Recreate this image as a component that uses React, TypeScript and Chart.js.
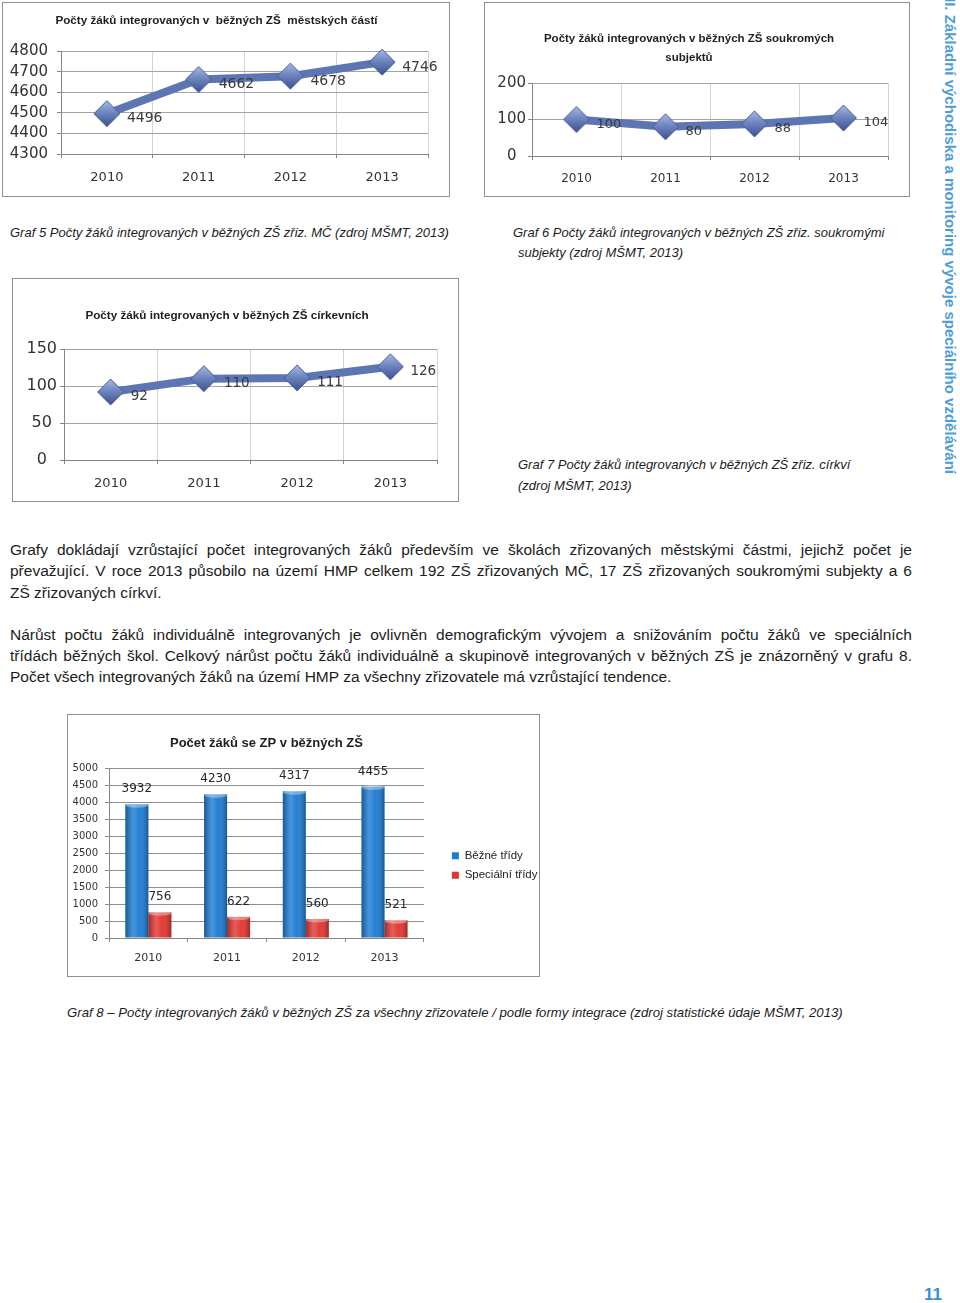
import React, { useEffect, useRef } from "react";
import { Chart, registerables } from "chart.js";

Chart.register(...registerables);

// ---------- data ----------
const years = ["2010", "2011", "2012", "2013"];
const mcValues = [4496, 4662, 4678, 4746];
const privateValues = [100, 80, 88, 104];
const churchValues = [92, 110, 111, 126];
const regularClassValues = [3932, 4230, 4317, 4455];
const specialClassValues = [756, 622, 560, 521];
const seriesNames = ["Běžné třídy", "Speciální třídy"];

const mcTitle = "Počty žáků integrovaných v  běžných ZŠ  městských částí";
const privateTitle = ["Počty žáků integrovaných v běžných ZŠ soukromých", "subjektů"];
const churchTitle = "Počty žáků integrovaných v běžných ZŠ církevních";
const totalTitle = "Počet žáků se ZP v běžných ZŠ";

const paragraph1 = [
  "Grafy dokládají vzrůstající počet integrovaných žáků především ve školách zřizovaných městskými částmi, jejichž počet je",
  "převažující. V roce 2013 působilo na území HMP celkem 192 ZŠ zřizovaných MČ, 17 ZŠ zřizovaných soukromými subjekty a 6",
  "ZŠ zřizovaných církví.",
];
const paragraph2 = [
  "Nárůst počtu žáků individuálně integrovaných je ovlivněn demografickým vývojem a snižováním počtu žáků ve speciálních",
  "třídách běžných škol. Celkový nárůst počtu žáků individuálně a skupinově integrovaných v běžných ZŠ je znázorněný v grafu 8.",
  "Počet všech integrovaných žáků na území HMP za všechny zřizovatele má vzrůstající tendence.",
];
const sideTitle = "II. Základní východiska a monitoring vývoje speciálního vzdělávání";

// ---------- styling ----------
const FONT_NUM = '"DejaVu Sans", sans-serif';
const FONT_TXT = '"Liberation Sans", Arial, sans-serif';
const LINE_COLOR = "#5d75b3";
const H_GRID = "#a3a3a3";
const V_GRID = "#d3d3d3";
const AXIS = "#868686";

function makeDiamond(r: number) {
  const c = document.createElement("canvas");
  const s = Math.ceil(2 * r + 2);
  c.width = s;
  c.height = s;
  const g = c.getContext("2d")!;
  const m = s / 2;
  const grad = g.createLinearGradient(0, m - r, 0, m + r);
  grad.addColorStop(0, "#a9b9e0");
  grad.addColorStop(0.45, "#6f86c0");
  grad.addColorStop(1, "#3b5290");
  g.beginPath();
  g.moveTo(m, m - r);
  g.lineTo(m + r, m);
  g.lineTo(m, m + r);
  g.lineTo(m - r, m);
  g.closePath();
  g.fillStyle = grad;
  g.fill();
  g.strokeStyle = "#475d97";
  g.lineWidth = 1;
  g.stroke();
  return c;
}

function pointLabelPlugin(size: number, dx: number, dy: number) {
  return {
    id: "pointLabels",
    afterDatasetsDraw(chart: any) {
      const { ctx } = chart;
      const meta = chart.getDatasetMeta(0);
      const data = chart.data.datasets[0].data;
      ctx.save();
      ctx.font = `${size}px ${FONT_NUM}`;
      ctx.fillStyle = "#3a3a3a";
      ctx.textAlign = "left";
      ctx.textBaseline = "middle";
      meta.data.forEach((pt: any, i: number) => {
        ctx.fillText(String(data[i]), pt.x + dx, pt.y + dy);
      });
      ctx.restore();
    },
  };
}

const barDecor = {
  id: "barDecor",
  afterDatasetsDraw(chart: any) {
    const { ctx } = chart;
    ctx.save();
    chart.data.datasets.forEach((ds: any, di: number) => {
      const meta = chart.getDatasetMeta(di);
      meta.data.forEach((el: any, i: number) => {
        const { x, y, base, width } = el.getProps(["x", "y", "base", "width"], true);
        const l = x - width / 2;
        const g = ctx.createLinearGradient(l, 0, l + width, 0);
        g.addColorStop(0, "rgba(0,0,0,0.28)");
        g.addColorStop(0.35, "rgba(255,255,255,0.2)");
        g.addColorStop(0.6, "rgba(255,255,255,0.04)");
        g.addColorStop(1, "rgba(0,0,0,0.3)");
        ctx.fillStyle = g;
        ctx.fillRect(l, y, width, base - y);
        ctx.beginPath();
        ctx.ellipse(x, y + 1, width / 2, 2.5, 0, 0, Math.PI * 2);
        ctx.fillStyle = "rgba(255,255,255,0.35)";
        ctx.fill();
        ctx.font = `12px ${FONT_NUM}`;
        ctx.fillStyle = "#262626";
        ctx.textAlign = "center";
        ctx.textBaseline = "middle";
        ctx.fillText(String(ds.data[i]), x, y - 15);
      });
    });
    ctx.restore();
  },
};

// moves the legend block to the right of the plot, as in the original layout
const legendNudge = {
  id: "legendNudge",
  afterLayout(chart: any) {
    const lg = chart.legend;
    if (!lg) return;
    lg.left += 20;
    lg.right += 20;
    lg.top += 20;
    lg.bottom += 20;
  },
};

const plainTick = (v: any) => String(v);

type LineSpec = {
  title: string | string[];
  titleSize: number;
  titleLH: number;
  titlePadTop: number;
  titlePadBottom: number;
  values: number[];
  yMin: number;
  yMax: number;
  yStep: number;
  padRight: number;
  yWidth: number;
  xHeight: number;
  yFont: number;
  yAlign: "near" | "center";
  yPad: number;
  xFont: number;
  xPad: number;
  labelFont: number;
};

function lineConfig(s: LineSpec): any {
  return {
    type: "line",
    data: {
      labels: years,
      datasets: [
        {
          data: s.values,
          borderColor: LINE_COLOR,
          borderWidth: 8,
          pointStyle: makeDiamond(13),
          pointRadius: 13,
          tension: 0,
          clip: false,
        },
      ],
    },
    plugins: [pointLabelPlugin(s.labelFont, 20, 5)],
    options: {
      responsive: false,
      animation: false,
      devicePixelRatio: 1,
      layout: { padding: { left: 0, right: s.padRight, top: 0, bottom: 0 } },
      plugins: {
        legend: { display: false },
        tooltip: { enabled: false },
        title: {
          display: true,
          text: s.title,
          color: "#1e1e1e",
          font: { family: FONT_TXT, size: s.titleSize, weight: "bold", lineHeight: s.titleLH },
          padding: { top: s.titlePadTop, bottom: s.titlePadBottom },
        },
      },
      scales: {
        x: {
          type: "category",
          offset: true,
          grid: { offset: true, color: V_GRID, tickColor: AXIS, tickLength: 4 },
          border: { color: AXIS },
          ticks: { font: { family: FONT_NUM, size: s.xFont }, color: "#333", padding: s.xPad },
          afterFit: (sc: any) => {
            sc.height = s.xHeight;
          },
        },
        y: {
          min: s.yMin,
          max: s.yMax,
          grid: { color: H_GRID, tickColor: AXIS, tickLength: 4 },
          border: { color: AXIS },
          ticks: {
            stepSize: s.yStep,
            autoSkip: false,
            callback: plainTick,
            font: { family: FONT_NUM, size: s.yFont },
            color: "#333",
            padding: s.yPad,
            crossAlign: s.yAlign,
          },
          afterFit: (sc: any) => {
            sc.width = s.yWidth;
          },
        },
      },
    },
  };
}

function barConfig(): any {
  return {
    type: "bar",
    data: {
      labels: years,
      datasets: [
        { label: seriesNames[0], data: regularClassValues, backgroundColor: "#1b7bd2" },
        { label: seriesNames[1], data: specialClassValues, backgroundColor: "#e1352f" },
      ],
    },
    plugins: [barDecor, legendNudge],
    options: {
      responsive: false,
      animation: false,
      devicePixelRatio: 1,
      categoryPercentage: 0.584,
      barPercentage: 1,
      layout: { padding: { left: 0, right: 11.5, top: 0, bottom: 0 } },
      plugins: {
        tooltip: { enabled: false },
        title: {
          display: true,
          fullSize: false,
          text: totalTitle,
          color: "#1e1e1e",
          font: { family: FONT_TXT, size: 13, weight: "bold", lineHeight: 18 / 13 },
          padding: { top: 19, bottom: 16 },
        },
        legend: {
          position: "right",
          labels: {
            boxWidth: 7,
            boxHeight: 7,
            padding: 8,
            color: "#222",
            font: { family: FONT_TXT, size: 11.5 },
          },
        },
      },
      scales: {
        x: {
          grid: { offset: true, drawOnChartArea: false, color: AXIS, tickLength: 4 },
          border: { color: AXIS },
          ticks: { font: { family: FONT_NUM, size: 11 }, color: "#333", padding: 10 },
          afterFit: (sc: any) => {
            sc.height = 38;
          },
        },
        y: {
          min: 0,
          max: 5000,
          grid: { color: "#8e8e8e", tickLength: 4 },
          border: { color: AXIS },
          ticks: {
            stepSize: 500,
            autoSkip: false,
            callback: plainTick,
            font: { family: FONT_NUM, size: 10 },
            color: "#333",
            padding: 7,
          },
          afterFit: (sc: any) => {
            sc.width = 41;
          },
        },
      },
    },
  };
}

type Box = { left: number; top: number; width: number; height: number };

function ChartBox({ box, build }: { box: Box; build: () => any }) {
  const ref = useRef<HTMLCanvasElement>(null);
  useEffect(() => {
    const chart = new Chart(ref.current!, build());
    return () => chart.destroy();
  }, []);
  const w = box.width - 2;
  const h = box.height - 2;
  return (
    <div
      style={{
        position: "absolute",
        left: box.left,
        top: box.top,
        width: box.width,
        height: box.height,
        boxSizing: "border-box",
        border: "1px solid #8f8f8f",
        background: "#fff",
      }}
    >
      <canvas ref={ref} width={w} height={h} style={{ display: "block", width: w, height: h }} />
    </div>
  );
}

function Line({
  text,
  left,
  center,
  width,
  justify,
  size,
  italic,
}: {
  text: string;
  left: number;
  center: number;
  width?: number;
  justify?: boolean;
  size: number;
  italic?: boolean;
}) {
  const lh = 20;
  return (
    <div
      style={{
        position: "absolute",
        left,
        top: center - lh / 2,
        width: width ?? 900,
        height: lh,
        lineHeight: `${lh}px`,
        fontFamily: FONT_TXT,
        fontSize: size,
        fontStyle: italic ? "italic" : "normal",
        color: "#1c1c1c",
        textAlign: justify ? "justify" : "left",
        textAlignLast: justify ? "justify" : "left",
        whiteSpace: justify ? "normal" : "nowrap",
      }}
    >
      {text}
    </div>
  );
}

export default function App() {
  return (
    <div
      style={{
        position: "absolute",
        left: 0,
        top: 0,
        width: 960,
        height: 1303,
        background: "#fff",
        overflow: "hidden",
      }}
    >
      <ChartBox
        box={{ left: 2, top: 2, width: 448, height: 195 }}
        build={() =>
          lineConfig({
            title: mcTitle,
            titleSize: 11.7,
            titleLH: 1.2,
            titlePadTop: 11,
            titlePadBottom: 23,
            values: mcValues,
            yMin: 4300,
            yMax: 4800,
            yStep: 100,
            padRight: 19,
            yWidth: 58,
            xHeight: 42,
            yFont: 15,
            yAlign: "near",
            yPad: 9,
            xFont: 13,
            xPad: 12,
            labelFont: 14,
          })
        }
      />
      <ChartBox
        box={{ left: 484, top: 2, width: 426, height: 195 }}
        build={() =>
          lineConfig({
            title: privateTitle,
            titleSize: 11.5,
            titleLH: 19 / 11.5,
            titlePadTop: 26,
            titlePadBottom: 16,
            values: privateValues,
            yMin: 0,
            yMax: 200,
            yStep: 100,
            padRight: 16,
            yWidth: 47,
            xHeight: 40,
            yFont: 15,
            yAlign: "center",
            yPad: 2,
            xFont: 12,
            xPad: 12,
            labelFont: 13,
          })
        }
      />
      <ChartBox
        box={{ left: 12, top: 278, width: 447, height: 224 }}
        build={() =>
          lineConfig({
            title: churchTitle,
            titleSize: 11.7,
            titleLH: 1.2,
            titlePadTop: 30,
            titlePadBottom: 26,
            values: churchValues,
            yMin: 0,
            yMax: 150,
            yStep: 50,
            padRight: 17,
            yWidth: 51,
            xHeight: 41,
            yFont: 16,
            yAlign: "center",
            yPad: 3,
            xFont: 13,
            xPad: 12,
            labelFont: 13.5,
          })
        }
      />
      <ChartBox box={{ left: 67, top: 714, width: 473, height: 263 }} build={barConfig} />

      <Line text="Graf 5 Počty žáků integrovaných v běžných ZŠ zřiz. MČ (zdroj MŠMT, 2013)" left={10} center={233} size={13} italic />
      <Line text="Graf 6 Počty žáků integrovaných v běžných ZŠ zřiz. soukromými" left={513} center={233} size={13} italic />
      <Line text="subjekty (zdroj MŠMT, 2013)" left={518} center={253} size={13} italic />
      <Line text="Graf 7  Počty žáků integrovaných v běžných ZŠ zřiz. církví" left={518} center={465} size={13} italic />
      <Line text="(zdroj MŠMT, 2013)" left={518} center={486} size={13} italic />

      {paragraph1.map((t, i) => (
        <Line key={"p1" + i} text={t} left={10} center={[550, 571, 593][i]} width={902} justify={i < 2} size={15.5} />
      ))}
      {paragraph2.map((t, i) => (
        <Line key={"p2" + i} text={t} left={10} center={[635, 656, 677][i]} width={902} justify={i < 2} size={15.5} />
      ))}

      <Line
        text="Graf 8 – Počty integrovaných žáků v běžných ZŠ za všechny zřizovatele / podle formy integrace (zdroj statistické údaje MŠMT, 2013)"
        left={67}
        center={1013}
        size={13.2}
        italic
      />

      <div
        style={{
          position: "absolute",
          left: 940,
          top: -2,
          width: 20,
          height: 490,
          writingMode: "vertical-rl",
          fontFamily: FONT_TXT,
          fontSize: 15,
          fontWeight: "bold",
          color: "#4d9dd6",
          lineHeight: "20px",
          whiteSpace: "nowrap",
        }}
      >
        {sideTitle}
      </div>
      <div
        style={{
          position: "absolute",
          left: 924,
          top: 1285,
          fontFamily: FONT_TXT,
          fontSize: 17,
          fontWeight: "bold",
          color: "#3a8fd4",
          lineHeight: "20px",
        }}
      >
        11
      </div>
    </div>
  );
}
